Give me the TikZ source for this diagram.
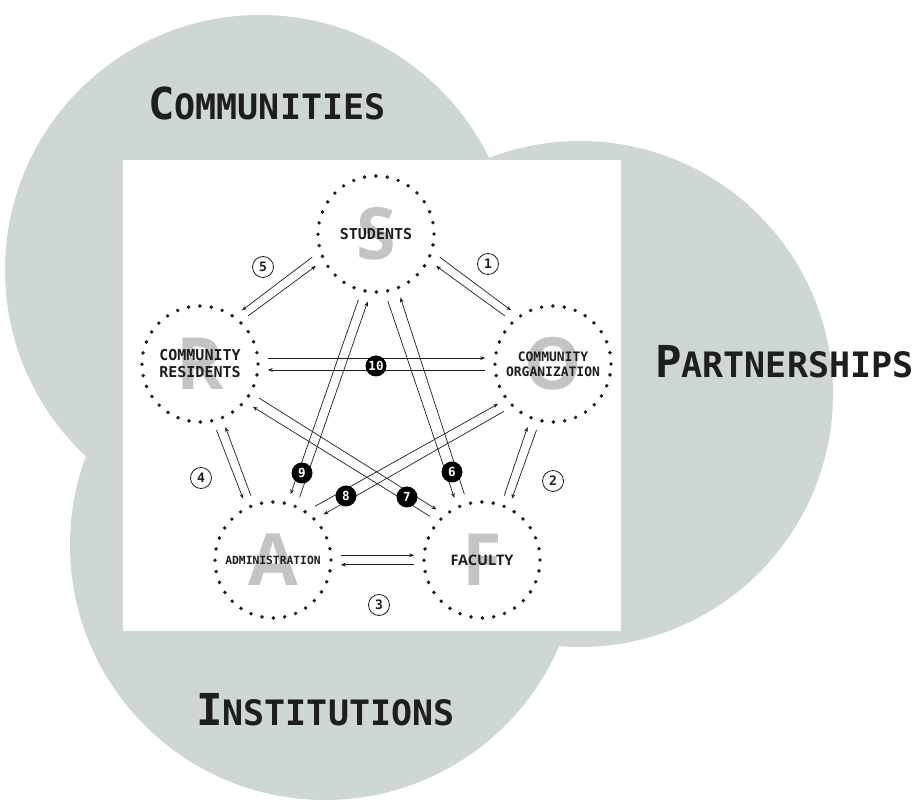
\documentclass[tikz,border=0pt]{standalone}
\usepackage{fontspec}
\usetikzlibrary{arrows.meta}
\newfontfamily\headmono{DejaVu Sans Mono}
\newfontfamily\ghostsans{Open Sans}
\definecolor{cloud}{RGB}{206,215,214}
\definecolor{ink}{RGB}{30,30,30}
\definecolor{ghost}{RGB}{196,196,196}
\tikzset{
  actor/.style={circle, minimum size=116pt, inner sep=0pt, outer sep=10pt,
    draw=ink, line width=3.9pt, dash pattern=on 0pt off 11.4pt, line cap=round,
    text=ink, align=center, font=\headmono\bfseries\fontsize{15}{17}\selectfont},
  ghostletter/.style={text=ghost, inner sep=0pt, font=\ghostsans\bfseries\fontsize{72}{72}\selectfont},
  flow/.style={->, draw=ink, line width=0.7pt},
  stepno/.style={circle, draw=ink, line width=0.8pt, minimum size=21pt, inner sep=0pt,
    text=ink, font=\headmono\bfseries\fontsize{13}{13}\selectfont},
  crossno/.style={circle, fill=black, text=white, minimum size=21pt, inner sep=0pt,
    font=\headmono\bfseries\fontsize{12.5}{12.5}\selectfont},
  heading/.style={anchor=base west, inner sep=0pt, text=ink,
    font=\headmono\bfseries\fontsize{35}{35}\selectfont}
}
\newcommand{\capinitial}[1]{{\fontsize{44}{44}\selectfont #1}}
\begin{document}
\begin{tikzpicture}[x=1pt, y=1pt, >={Stealth[length=5pt,width=3.8pt]}]
  \useasboundingbox (0,0) rectangle (924,804);

  % the three spheres
  \fill[cloud] (260,534) circle (255);
  \fill[cloud] (580,410) circle (253);
  \fill[cloud] (325,259) circle (255);
  \fill[white] (123,173) rectangle (621,644);

  \node[ghostletter] (gS) at (376,570) {S};
  \node[ghostletter] (gR) at (200,440) {R};
  \node[ghostletter] (gO) at (553,440) {O};
  \node[ghostletter] (gA) at (273,244) {A};
  \node[ghostletter] (gF) at (482,244) {F};

  \node[actor] (S) at (376,570) {STUDENTS};
  \node[actor] (R) at (200,440) {COMMUNITY\\RESIDENTS};
  \node[actor, font=\headmono\bfseries\fontsize{13}{15}\selectfont] (O) at (553,440) {COMMUNITY\\ORGANIZATION};
  \node[actor, font=\headmono\bfseries\fontsize{11.3}{13}\selectfont] (A) at (273,244) {ADMINISTRATION};
  \node[actor, font=\ghostsans\bfseries\fontsize{14.5}{17}\selectfont] (F) at (482,244) {FACULTY};

  % outer ring
  \draw[flow] (S.-20) -- (O.128);
  \draw[flow] (O.135) -- (S.-28);
  \draw[flow] (O.256) -- (F.64);
  \draw[flow] (F.71) -- (O.248);
  \draw[flow] (A.4) -- (F.176);
  \draw[flow] (F.184) -- (A.-4);
  \draw[flow] (R.-76) -- (A.116);
  \draw[flow] (A.109) -- (R.-68);
  \draw[flow] (S.200) -- (R.52);
  \draw[flow] (R.45) -- (S.208);
  % inner star
  \draw[flow] (S.280) -- (F.114);
  \draw[flow] (F.105) -- (S.291);
  \draw[flow] (R.-30) -- (F.132);
  \draw[flow] (F.140) -- (R.-39);
  \draw[flow] (A.52) -- (O.216);
  \draw[flow] (O.224) -- (A.42);
  \draw[flow] (S.255) -- (A.75);
  \draw[flow] (A.67) -- (S.263);
  \draw[flow] (R.5) -- (O.175);
  \draw[flow] (O.185) -- (R.-5);

  \node[stepno] (n1) at (488,540) {1};
  \node[stepno] (n2) at (553,323) {2};
  \node[stepno] (n3) at (379,199) {3};
  \node[stepno] (n4) at (201,326) {4};
  \node[stepno] (n5) at (263,537) {5};

  \node[crossno] (b6) at (452,332) {6};
  \node[crossno] (b7) at (407,307) {7};
  \node[crossno] (b8) at (346,308) {8};
  \node[crossno] (b9) at (302,331) {9};
  \node[crossno] (b10) at (376,438) {10};

  \node[heading] (communities) at (148,684) {\capinitial{C}OMMUNITIES};
  \node[heading] (partnerships) at (655,426) {\capinitial{P}ARTNERSHIPS};
  \node[heading] (institutions) at (196,79) {\capinitial{I}NSTITUTIONS};
\end{tikzpicture}
\end{document}
